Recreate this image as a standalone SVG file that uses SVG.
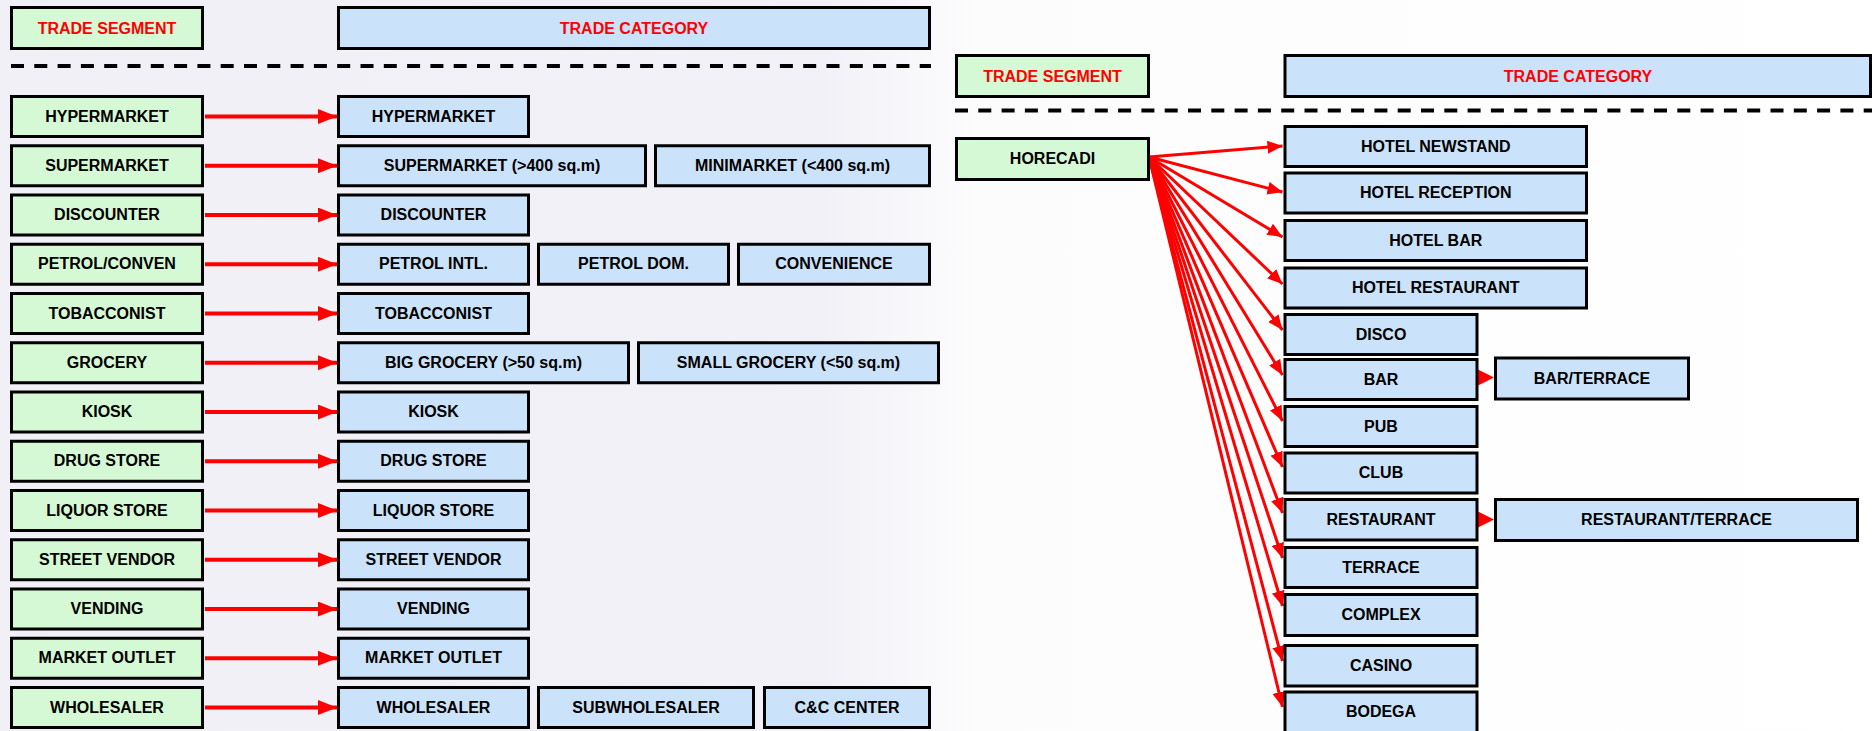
<svg xmlns="http://www.w3.org/2000/svg" width="1874" height="731" viewBox="0 0 1874 731">
<defs>
<style>
.seg{fill:#d5f9d5;stroke:#000;stroke-width:3}
.cat{fill:#cae3fa;stroke:#000;stroke-width:3}
.t{font-family:"Liberation Sans",Arial,sans-serif;font-weight:bold;font-size:16px;fill:#000;text-anchor:middle}
.h{font-family:"Liberation Sans",Arial,sans-serif;font-weight:bold;font-size:16px;fill:#ff0000;text-anchor:middle}
.dash{stroke:#000;stroke-width:4;stroke-dasharray:13 10.3;fill:none}
.la{stroke:#ff0000;stroke-width:4;fill:none;marker-end:url(#arrL)}
.ra{stroke:#ff0000;stroke-width:3;fill:none;marker-end:url(#arrR)}
</style>
<linearGradient id="bg" x1="0" y1="0" x2="1" y2="0">
<stop offset="0" stop-color="#f1f0f6"/>
<stop offset="0.44" stop-color="#f2f1f7"/>
<stop offset="0.52" stop-color="#fcfcfd"/>
<stop offset="1" stop-color="#ffffff"/>
</linearGradient>
<marker id="arrL" markerUnits="userSpaceOnUse" viewBox="0 0 19 15" markerWidth="19" markerHeight="15" refX="19" refY="7.5" orient="auto"><path d="M0,0 L19,7.5 L0,15 z" fill="#ff0000"/></marker>
<marker id="arrR" markerUnits="userSpaceOnUse" viewBox="0 0 15 13" markerWidth="15" markerHeight="13" refX="15" refY="6.5" orient="auto"><path d="M0,0 L15,6.5 L0,13 z" fill="#ff0000"/></marker>
</defs>
<rect x="0" y="0" width="1874" height="731" fill="url(#bg)"/>

<g id="headers">
<g id="h-left-seg"><rect class="seg" x="11.5" y="7.5" width="191" height="41"/><text class="h" x="107" y="33.5">TRADE SEGMENT</text></g>
<g id="h-left-cat"><rect class="cat" x="338.5" y="7.5" width="591" height="41"/><text class="h" x="634" y="33.5">TRADE CATEGORY</text></g>
<g id="h-right-seg"><rect class="seg" x="956.5" y="55.5" width="192" height="41"/><text class="h" x="1052.5" y="81.5">TRADE SEGMENT</text></g>
<g id="h-right-cat"><rect class="cat" x="1285" y="55.5" width="585.5" height="41"/><text class="h" x="1578" y="81.5">TRADE CATEGORY</text></g>
<line class="dash" x1="11" y1="66" x2="931" y2="66"/>
<line class="dash" x1="955" y1="110.5" x2="1872" y2="110.5"/>
</g>

<g id="connectors">
<line class="la" x1="205" y1="116.5" x2="337" y2="116.5"/>
<line class="la" x1="205" y1="165.75" x2="337" y2="165.75"/>
<line class="la" x1="205" y1="215" x2="337" y2="215"/>
<line class="la" x1="205" y1="264.25" x2="337" y2="264.25"/>
<line class="la" x1="205" y1="313.5" x2="337" y2="313.5"/>
<line class="la" x1="205" y1="362.75" x2="337" y2="362.75"/>
<line class="la" x1="205" y1="412" x2="337" y2="412"/>
<line class="la" x1="205" y1="461.25" x2="337" y2="461.25"/>
<line class="la" x1="205" y1="510.5" x2="337" y2="510.5"/>
<line class="la" x1="205" y1="559.75" x2="337" y2="559.75"/>
<line class="la" x1="205" y1="609" x2="337" y2="609"/>
<line class="la" x1="205" y1="658.25" x2="337" y2="658.25"/>
<line class="la" x1="205" y1="707.5" x2="337" y2="707.5"/>

<line class="ra" x1="1149" y1="157" x2="1282.5" y2="146"/>
<line class="ra" x1="1149" y1="157" x2="1282.5" y2="192"/>
<line class="ra" x1="1149" y1="157" x2="1282.5" y2="237"/>
<line class="ra" x1="1149" y1="157" x2="1282.5" y2="284"/>
<line class="ra" x1="1149" y1="157" x2="1282.5" y2="330"/>
<line class="ra" x1="1149" y1="157" x2="1282.5" y2="375"/>
<line class="ra" x1="1149" y1="157" x2="1282.5" y2="421"/>
<line class="ra" x1="1149" y1="157" x2="1282.5" y2="467"/>
<line class="ra" x1="1149" y1="157" x2="1282.5" y2="513"/>
<line class="ra" x1="1149" y1="157" x2="1282.5" y2="558"/>
<line class="ra" x1="1149" y1="157" x2="1282.5" y2="606"/>
<line class="ra" x1="1149" y1="157" x2="1282.5" y2="661"/>
<line class="ra" x1="1149" y1="157" x2="1282.5" y2="707"/>

<polygon points="1478,369.5 1494,377.5 1478,385.5" fill="#ff0000"/>
<polygon points="1478,511.5 1494,519.5 1478,527.5" fill="#ff0000"/>
</g>

<g id="seg-hypermarket"><rect class="seg" x="11.5" y="96.5" width="191" height="40"/><text class="t" x="107" y="121.5">HYPERMARKET</text></g>
<g id="seg-supermarket"><rect class="seg" x="11.5" y="145.75" width="191" height="40"/><text class="t" x="107" y="170.75">SUPERMARKET</text></g>
<g id="seg-discounter"><rect class="seg" x="11.5" y="195" width="191" height="40"/><text class="t" x="107" y="220">DISCOUNTER</text></g>
<g id="seg-petrol"><rect class="seg" x="11.5" y="244.25" width="191" height="40"/><text class="t" x="107" y="269.25">PETROL/CONVEN</text></g>
<g id="seg-tobacconist"><rect class="seg" x="11.5" y="293.5" width="191" height="40"/><text class="t" x="107" y="318.5">TOBACCONIST</text></g>
<g id="seg-grocery"><rect class="seg" x="11.5" y="342.75" width="191" height="40"/><text class="t" x="107" y="367.75">GROCERY</text></g>
<g id="seg-kiosk"><rect class="seg" x="11.5" y="392" width="191" height="40"/><text class="t" x="107" y="417">KIOSK</text></g>
<g id="seg-drugstore"><rect class="seg" x="11.5" y="441.25" width="191" height="40"/><text class="t" x="107" y="466.25">DRUG STORE</text></g>
<g id="seg-liquor"><rect class="seg" x="11.5" y="490.5" width="191" height="40"/><text class="t" x="107" y="515.5">LIQUOR STORE</text></g>
<g id="seg-street"><rect class="seg" x="11.5" y="539.75" width="191" height="40"/><text class="t" x="107" y="564.75">STREET VENDOR</text></g>
<g id="seg-vending"><rect class="seg" x="11.5" y="589" width="191" height="40"/><text class="t" x="107" y="614">VENDING</text></g>
<g id="seg-market"><rect class="seg" x="11.5" y="638.25" width="191" height="40"/><text class="t" x="107" y="663.25">MARKET OUTLET</text></g>
<g id="seg-wholesaler"><rect class="seg" x="11.5" y="687.5" width="191" height="40"/><text class="t" x="107" y="712.5">WHOLESALER</text></g>

<g id="cat-hypermarket"><rect class="cat" x="338.5" y="96.5" width="190" height="40"/><text class="t" x="433.5" y="121.5">HYPERMARKET</text></g>
<g id="cat-supermarket"><rect class="cat" x="338.5" y="145.75" width="307" height="40"/><text class="t" x="492" y="170.75">SUPERMARKET (&gt;400 sq.m)</text></g>
<g id="cat-minimarket"><rect class="cat" x="655.5" y="145.75" width="274" height="40"/><text class="t" x="792.5" y="170.75">MINIMARKET (&lt;400 sq.m)</text></g>
<g id="cat-discounter"><rect class="cat" x="338.5" y="195" width="190" height="40"/><text class="t" x="433.5" y="220">DISCOUNTER</text></g>
<g id="cat-petrolintl"><rect class="cat" x="338.5" y="244.25" width="190" height="40"/><text class="t" x="433.5" y="269.25">PETROL INTL.</text></g>
<g id="cat-petroldom"><rect class="cat" x="538.5" y="244.25" width="190" height="40"/><text class="t" x="633.5" y="269.25">PETROL DOM.</text></g>
<g id="cat-convenience"><rect class="cat" x="738.5" y="244.25" width="191" height="40"/><text class="t" x="834" y="269.25">CONVENIENCE</text></g>
<g id="cat-tobacconist"><rect class="cat" x="338.5" y="293.5" width="190" height="40"/><text class="t" x="433.5" y="318.5">TOBACCONIST</text></g>
<g id="cat-biggrocery"><rect class="cat" x="338.5" y="342.75" width="290" height="40"/><text class="t" x="483.5" y="367.75">BIG GROCERY (&gt;50 sq.m)</text></g>
<g id="cat-smallgrocery"><rect class="cat" x="638.5" y="342.75" width="300" height="40"/><text class="t" x="788.5" y="367.75">SMALL GROCERY (&lt;50 sq.m)</text></g>
<g id="cat-kiosk"><rect class="cat" x="338.5" y="392" width="190" height="40"/><text class="t" x="433.5" y="417">KIOSK</text></g>
<g id="cat-drugstore"><rect class="cat" x="338.5" y="441.25" width="190" height="40"/><text class="t" x="433.5" y="466.25">DRUG STORE</text></g>
<g id="cat-liquor"><rect class="cat" x="338.5" y="490.5" width="190" height="40"/><text class="t" x="433.5" y="515.5">LIQUOR STORE</text></g>
<g id="cat-street"><rect class="cat" x="338.5" y="539.75" width="190" height="40"/><text class="t" x="433.5" y="564.75">STREET VENDOR</text></g>
<g id="cat-vending"><rect class="cat" x="338.5" y="589" width="190" height="40"/><text class="t" x="433.5" y="614">VENDING</text></g>
<g id="cat-market"><rect class="cat" x="338.5" y="638.25" width="190" height="40"/><text class="t" x="433.5" y="663.25">MARKET OUTLET</text></g>
<g id="cat-wholesaler"><rect class="cat" x="338.5" y="687.5" width="190" height="40"/><text class="t" x="433.5" y="712.5">WHOLESALER</text></g>
<g id="cat-subwholesaler"><rect class="cat" x="538.5" y="687.5" width="215" height="40"/><text class="t" x="646" y="712.5">SUBWHOLESALER</text></g>
<g id="cat-cc"><rect class="cat" x="764.5" y="687.5" width="165" height="40"/><text class="t" x="847" y="712.5">C&amp;C CENTER</text></g>

<g id="seg-horecadi"><rect class="seg" x="956.5" y="138.5" width="192" height="41"/><text class="t" x="1052.5" y="164">HORECADI</text></g>

<g id="cat-hotelnewstand"><rect class="cat" x="1285" y="126.5" width="301.5" height="40"/><text class="t" x="1435.75" y="151.5">HOTEL NEWSTAND</text></g>
<g id="cat-hotelreception"><rect class="cat" x="1285" y="173" width="301.5" height="40"/><text class="t" x="1435.75" y="198">HOTEL RECEPTION</text></g>
<g id="cat-hotelbar"><rect class="cat" x="1285" y="220.5" width="301.5" height="40"/><text class="t" x="1435.75" y="245.5">HOTEL BAR</text></g>
<g id="cat-hotelrestaurant"><rect class="cat" x="1285" y="268" width="301.5" height="40"/><text class="t" x="1435.75" y="293">HOTEL RESTAURANT</text></g>
<g id="cat-disco"><rect class="cat" x="1285" y="314.5" width="192" height="40"/><text class="t" x="1381" y="339.5">DISCO</text></g>
<g id="cat-bar"><rect class="cat" x="1285" y="359.5" width="192" height="40"/><text class="t" x="1381" y="384.5">BAR</text></g>
<g id="cat-barterrace"><rect class="cat" x="1495.5" y="358" width="193" height="41"/><text class="t" x="1592" y="383.5">BAR/TERRACE</text></g>
<g id="cat-pub"><rect class="cat" x="1285" y="406.5" width="192" height="40"/><text class="t" x="1381" y="431.5">PUB</text></g>
<g id="cat-club"><rect class="cat" x="1285" y="453" width="192" height="40"/><text class="t" x="1381" y="478">CLUB</text></g>
<g id="cat-restaurant"><rect class="cat" x="1285" y="499.5" width="192" height="40.5"/><text class="t" x="1381" y="525">RESTAURANT</text></g>
<g id="cat-restterrace"><rect class="cat" x="1495.5" y="499.5" width="362" height="41"/><text class="t" x="1676.5" y="525">RESTAURANT/TERRACE</text></g>
<g id="cat-terrace"><rect class="cat" x="1285" y="547.5" width="192" height="40"/><text class="t" x="1381" y="572.5">TERRACE</text></g>
<g id="cat-complex"><rect class="cat" x="1285" y="594.5" width="192" height="41"/><text class="t" x="1381" y="620">COMPLEX</text></g>
<g id="cat-casino"><rect class="cat" x="1285" y="645.5" width="192" height="40.5"/><text class="t" x="1381" y="671">CASINO</text></g>
<g id="cat-bodega"><rect class="cat" x="1285" y="692" width="192" height="41"/><text class="t" x="1381" y="716.5">BODEGA</text></g>
</svg>
